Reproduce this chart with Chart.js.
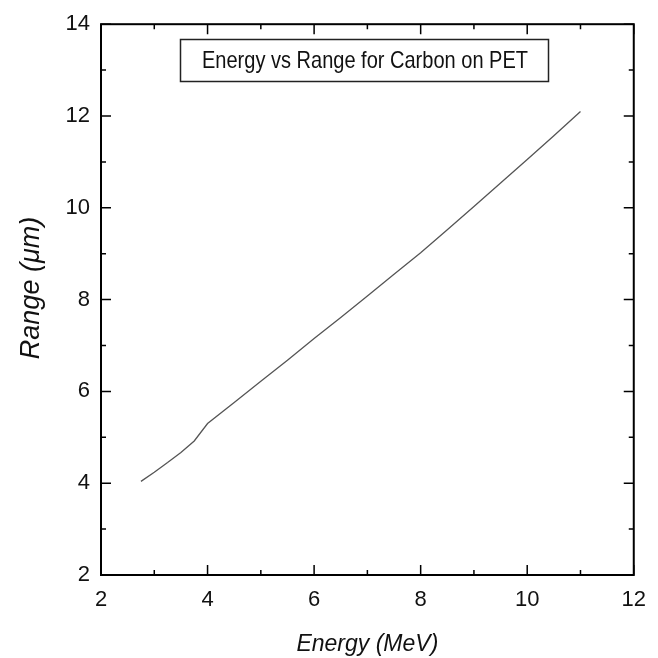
<!DOCTYPE html>
<html>
<head>
<meta charset="utf-8">
<script src="https://cdn.jsdelivr.net/npm/chart.js@4.4.1/dist/chart.umd.min.js"></script>
<style>
  html, body { margin: 0; padding: 0; background: #fff; }
  #wrap { width: 658px; height: 658px; }
</style>
</head>
<body>
<div id="wrap"><canvas id="c" width="658" height="658"></canvas></div>
<script>
const chartTitle = 'Energy vs Range for Carbon on PET';
const xTitle = 'Energy (MeV)';
const yTitle = 'Range (\u03BCm)';
const energy = [2.75, 3.0, 3.25, 3.5, 3.75, 4.0, 4.5, 5.0, 5.5, 6.0, 6.5, 7.0, 7.5, 8.0, 8.5, 9.0, 9.5, 10.0, 10.5, 11.0];
const range  = [4.04, 4.24, 4.45, 4.67, 4.92, 5.30, 5.76, 6.22, 6.68, 7.15, 7.61, 8.08, 8.55, 9.02, 9.52, 10.03, 10.54, 11.05, 11.57, 12.10];
const xMajorTicks = [2, 4, 6, 8, 10, 12];
const yMajorTicks = [2, 4, 6, 8, 10, 12, 14];

const FONT = "'Liberation Sans', Arial, sans-serif";

const framePlugin = {
  id: 'frame',
  afterDraw(chart) {
    const ctx = chart.ctx;
    const xs = chart.scales.x, ys = chart.scales.y;
    const a = chart.chartArea;
    ctx.save();
    ctx.strokeStyle = '#000';
    ctx.lineWidth = 2;
    ctx.strokeRect(a.left, a.top, a.right - a.left, a.bottom - a.top);
    ctx.lineWidth = 1.5;
    ctx.beginPath();
    for (let v = xs.min; v <= xs.max + 1e-9; v += 1) {
      const p = xs.getPixelForValue(v);
      const len = xMajorTicks.includes(v) ? 10 : 5;
      ctx.moveTo(p, a.bottom); ctx.lineTo(p, a.bottom - len);
      ctx.moveTo(p, a.top); ctx.lineTo(p, a.top + len);
    }
    for (let v = ys.min; v <= ys.max + 1e-9; v += 1) {
      const p = ys.getPixelForValue(v);
      const len = yMajorTicks.includes(v) ? 10 : 5;
      ctx.moveTo(a.left, p); ctx.lineTo(a.left + len, p);
      ctx.moveTo(a.right, p); ctx.lineTo(a.right - len, p);
    }
    ctx.stroke();

    // title box
    const bx = 180, by = 39, bw = 368, bh = 42;
    ctx.lineWidth = 1.5;
    ctx.strokeStyle = '#222';
    ctx.strokeRect(bx + 0.5, by + 0.5, bw, bh);
    ctx.fillStyle = '#111';
    ctx.font = '24px ' + FONT;
    ctx.textAlign = 'center';
    ctx.textBaseline = 'middle';
    const w = ctx.measureText(chartTitle).width;
    const sx = Math.min(1, 326 / w);
    ctx.save();
    ctx.translate(bx + bw / 2 + 1, by + bh / 2 + 1);
    ctx.scale(sx, 1);
    ctx.fillText(chartTitle, 0, 0);
    ctx.restore();

    // y axis title
    ctx.save();
    ctx.font = 'italic 27px ' + FONT;
    ctx.translate(31, 288);
    ctx.rotate(-Math.PI / 2);
    ctx.textAlign = 'center';
    ctx.textBaseline = 'middle';
    ctx.fillText(yTitle, 0, 0);
    ctx.restore();
    ctx.restore();
  }
};

new Chart(document.getElementById('c'), {
  type: 'line',
  data: {
    datasets: [{
      data: energy.map((e, i) => ({ x: e, y: range[i] })),
      borderColor: '#555',
      borderWidth: 1.3,
      pointRadius: 0,
      tension: 0,
      fill: false
    }]
  },
  options: {
    responsive: false,
    animation: false,
    devicePixelRatio: 1,
    layout: { padding: { top: 19, right: 20, left: 0, bottom: 0 } },
    plugins: { legend: { display: false }, tooltip: { enabled: false }, title: { display: false } },
    scales: {
      x: {
        type: 'linear', min: 2, max: 12,
        afterFit(s) { s.height = 83; },
        grid: { display: false, drawTicks: false },
        border: { display: false },
        ticks: { stepSize: 2, padding: 12, color: '#111', font: { size: 22, family: FONT } },
        title: { display: true, text: xTitle, color: '#111', padding: { top: 0, bottom: 0 },
                 font: { size: 23, family: FONT, style: 'italic' } }
      },
      y: {
        type: 'linear', min: 2, max: 14,
        afterFit(s) { s.width = 101; },
        grid: { display: false, drawTicks: false },
        border: { display: false },
        ticks: { stepSize: 2, padding: 11, color: '#111', font: { size: 22, family: FONT } },
        title: { display: false }
      }
    }
  },
  plugins: [framePlugin]
});
</script>
</body>
</html>
